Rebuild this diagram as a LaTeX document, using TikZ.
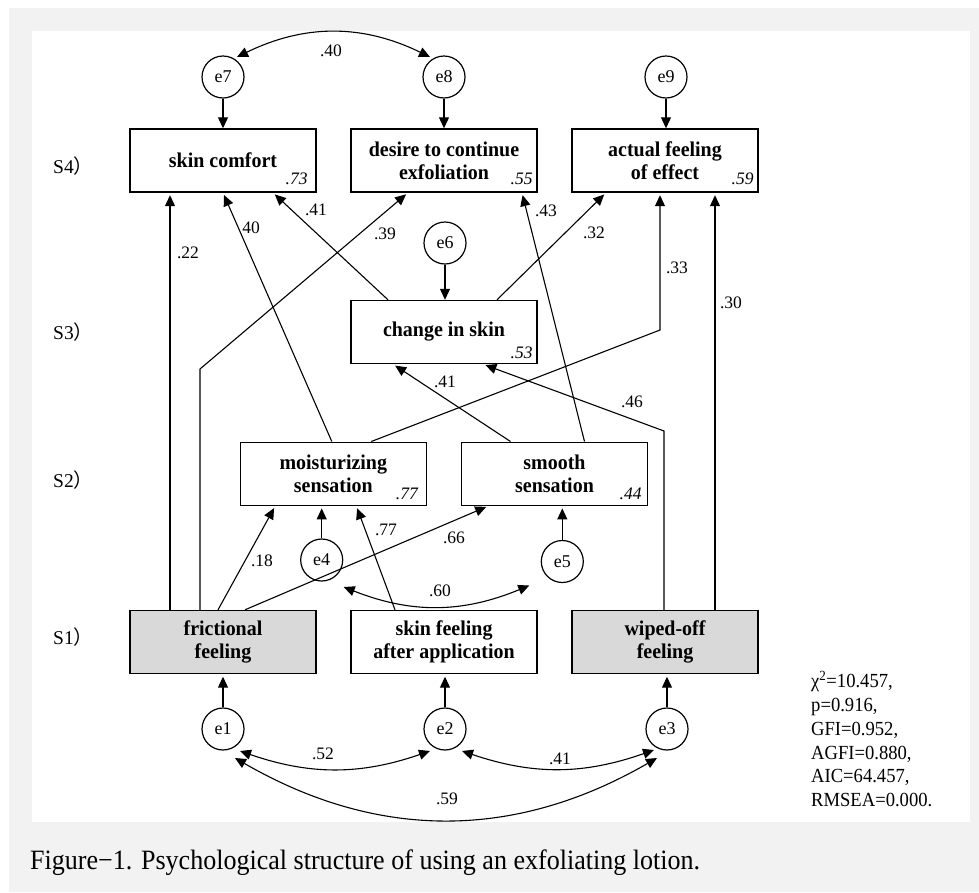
\documentclass[tikz,border=0pt]{standalone}
\usepackage{fontspec}
\setmainfont{Liberation Serif}
\newfontfamily\cjk{Noto Sans CJK SC}
\newfontfamily\narrow{Liberation Serif}[FakeStretch=0.93]
\newfontfamily\boxfont{Liberation Serif}[FakeStretch=0.95]
\usetikzlibrary{arrows.meta}
\definecolor{pagegray}{HTML}{F2F2F2}
\definecolor{boxgray}{HTML}{D9D9D9}

\begin{document}
\begin{tikzpicture}[x=1pt,y=-1pt,
    var/.style={draw,line width=1.4pt,minimum width=186pt,minimum height=63pt,inner sep=0pt,align=center,font=\boxfont\fontsize{21}{23}\selectfont\bfseries},
    obs/.style={var,fill=boxgray},
    err/.style={draw,circle,line width=1.2pt,minimum size=42pt,inner sep=0pt,font=\fontsize{18}{20}\selectfont},
    coef/.style={inner sep=0pt,font=\fontsize{17.5}{20}\selectfont},
    rsq/.style={inner sep=0pt,anchor=base east,font=\fontsize{17.5}{20}\selectfont\itshape},
    causal/.style={line width=1.1pt,-{Triangle[length=11pt,width=10pt]}},
    rise/.style={causal,shorten >=2.5pt},
    cov/.style={line width=1.1pt,{Triangle[length=11pt,width=10pt]}-{Triangle[length=11pt,width=10pt]}},
    stage/.style={inner sep=0pt,anchor=west,font=\fontsize{19.5}{22}\selectfont}]
    \useasboundingbox (0,0) rectangle (979,892);
    \fill[white] (0,0) rectangle (979,892);
    \fill[pagegray] (9,8) rectangle (979,892);
    \fill[white] (31.7,31) rectangle (970,821.7);

    \node[stage] (s4) at (53,165.7) {S4{\cjk ）}};
    \node[stage] (s3) at (53,331.7) {S3{\cjk ）}};
    \node[stage] (s2) at (53,480) {S2{\cjk ）}};
    \node[stage] (s1) at (53,636.7) {S1{\cjk ）}};

    \node[err] (e7) at (223,77) {e7};
    \node[err] (e8) at (444,77) {e8};
    \node[err] (e9) at (666,77) {e9};
    \node[var] (skin) at (223,160.5) {skin comfort};
    \node[var] (desire) at (444,160.5) {desire to continue\\exfoliation};
    \node[var] (actual) at (665,160.5) {actual feeling\\of effect};
    \node[err] (e6) at (445,243) {e6};
    \node[var] (change) at (444,332) {change in skin};
    \node[var] (moist) at (333.3,473.7) {moisturizing\\sensation};
    \node[var] (smooth) at (554.5,473.7) {smooth\\sensation};
    \node[err] (e4) at (321.7,560) {e4};
    \node[err] (e5) at (562.3,561.5) {e5};
    \node[obs] (fric) at (223,642) {frictional\\feeling};
    \node[var] (feel) at (444,642) {skin feeling\\after application};
    \node[obs] (wiped) at (665,642) {wiped-off\\feeling};
    \node[err] (e1) at (223,729) {e1};
    \node[err] (e2) at (445,729) {e2};
    \node[err] (e3) at (667,729) {e3};

    \node[rsq] (r73) at ([xshift=-9pt,yshift=8pt]skin.south east) {.73};
    \node[rsq] (r55) at ([xshift=-5pt,yshift=8pt]desire.south east) {.55};
    \node[rsq] (r59) at ([xshift=-5pt,yshift=8pt]actual.south east) {.59};
    \node[rsq] (r53) at ([xshift=-5pt,yshift=5.5pt]change.south east) {.53};
    \node[rsq] (r77) at ([xshift=-9pt,yshift=6.5pt]moist.south east) {.77};
    \node[rsq] (r44) at ([xshift=-6.5pt,yshift=6.5pt]smooth.south east) {.44};

    \draw[causal] (e7) -- (skin);
    \draw[causal] (e8) -- (desire);
    \draw[causal] (e9.south) -- (e9.south |- actual.north);
    \draw[causal] (e6.south) -- (e6.south |- change.north);
    \draw[rise] (e4.north) -- (e4.north |- moist.south);
    \draw[rise] (e5.north) -- (e5.north |- smooth.south);
    \draw[rise] (e1) -- (fric);
    \draw[rise] (e2.north) -- (e2.north |- feel.south);
    \draw[rise] (e3.north) -- (e3.north |- wiped.south);

    \coordinate (k39) at (200,369);
    \coordinate (k33) at (660,330);
    \coordinate (k46) at (664,431);
    \draw[rise] ([xshift=-53pt]fric.north) -- ([xshift=-53pt]skin.south);
    \draw[rise] ([xshift=-23pt]fric.north) -- (k39) -- ([xshift=-36pt]desire.south);
    \draw[rise] ([xshift=-1.5pt]moist.north) -- (skin.south);
    \draw[rise] ([xshift=-56pt]change.north) -- ([xshift=50pt]skin.south);
    \draw[rise] ([xshift=30pt]smooth.north) -- ([xshift=78pt]desire.south);
    \draw[rise] ([xshift=53pt]change.north) -- ([xshift=-59pt]actual.south);
    \draw[rise] ([xshift=38pt]moist.north) -- (k33) -- ([xshift=-5pt]actual.south);
    \draw[rise] ([xshift=50pt]wiped.north) -- ([xshift=50pt]actual.south);
    \draw[rise] ([xshift=-44pt]smooth.north) -- ([xshift=-51pt]change.south);
    \draw[rise] ([xshift=-1pt]wiped.north) -- (k46) -- ([xshift=39pt]change.south);
    \draw[rise] ([xshift=-5pt]fric.north) -- ([xshift=-58pt]moist.south);
    \draw[rise] ([xshift=-49pt]feel.north) -- ([xshift=23pt]moist.south);
    \draw[rise] ([xshift=22pt]fric.north) -- ([xshift=-66pt]smooth.south);

    \draw[cov] ([shift={(14,-20)}]e7.center) to[bend left=26] ([shift={(-14,-20)}]e8.center);
    \draw[cov] ([shift={(22,27)}]e4.center) to[bend right=22] ([shift={(-33,24)}]e5.center);
    \draw[cov] ([shift={(17,22)}]e1.center) to[bend right=19] ([shift={(-15,22)}]e2.center);
    \draw[cov] ([shift={(17,22)}]e2.center) to[bend right=19] ([shift={(-13,21)}]e3.center);
    \draw[cov] ([shift={(12,29)}]e1.center) to[bend right=30] ([shift={(-10,29)}]e3.center);

    \node[coef] (l40) at (331,51) {.40};
    \node[coef] (l22) at (188,253) {.22};
    \node[coef] (l39) at (385,234) {.39};
    \node[coef] (lm40) at (251,228) {40};
    \node[coef] (l41a) at (316,210) {.41};
    \node[coef] (l43) at (546,211) {.43};
    \node[coef] (l32) at (594,233) {.32};
    \node[coef] (l33) at (677,268) {.33};
    \node[coef] (l30) at (731,303) {.30};
    \node[coef] (l41b) at (445,382) {.41};
    \node[coef] (l46) at (632,402) {.46};
    \node[coef] (l18) at (262,561) {.18};
    \node[coef] (l77) at (386,530) {.77};
    \node[coef] (l66) at (454,538) {.66};
    \node[coef] (l60) at (440,591) {.60};
    \node[coef] (l52) at (323,754) {.52};
    \node[coef] (l41c) at (560,759) {.41};
    \node[coef] (l59) at (447,799) {.59};

    \node[anchor=west,align=left,inner sep=0pt,font=\narrow\fontsize{20}{23.8}\selectfont] (fit) at (811,739)
        {χ\textsuperscript{2}=10.457,\\p=0.916,\\GFI=0.952,\\AGFI=0.880,\\AIC=64.457,\\RMSEA=0.000.};
    \node[anchor=base west,inner sep=0pt,font=\narrow\fontsize{28}{30}\selectfont] (caption) at (30,869)
        {Figure−1. Psychological structure of using an exfoliating lotion.};
\end{tikzpicture}
\end{document}
